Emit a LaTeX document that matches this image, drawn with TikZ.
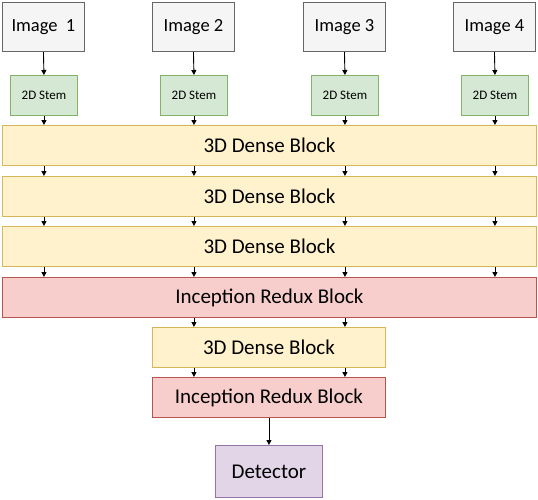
\documentclass[tikz,border=0pt]{standalone}
\usepackage{fontspec}
\setmainfont{Carlito}
\usetikzlibrary{arrows.meta}
\definecolor{grayF}{HTML}{F5F5F5}\definecolor{grayS}{HTML}{666666}
\definecolor{greenF}{HTML}{D5E8D4}\definecolor{greenS}{HTML}{82B366}
\definecolor{yelF}{HTML}{FFF2CC}\definecolor{yelS}{HTML}{D6B656}
\definecolor{redF}{HTML}{F8CECC}\definecolor{redS}{HTML}{B85450}
\definecolor{purF}{HTML}{E1D5E7}\definecolor{purS}{HTML}{9673A6}
\tikzset{
  box/.style={draw, line width=0.9pt, inner sep=0pt, anchor=north west},
  imgbox/.style={box, fill=grayF, draw=grayS, minimum width=82pt, minimum height=49pt, font=\fontsize{18.5}{22}\selectfont},
  stembox/.style={box, fill=greenF, draw=greenS, minimum width=67pt, minimum height=40pt, font=\fontsize{13}{15}\selectfont},
  densebox/.style={box, fill=yelF, draw=yelS, minimum height=40pt, font=\fontsize{21}{25}\selectfont},
  redbox/.style={box, fill=redF, draw=redS, minimum height=40pt, font=\fontsize{21}{25}\selectfont},
  detbox/.style={box, fill=purF, draw=purS, minimum width=107pt, minimum height=52pt, font=\fontsize{21}{25}\selectfont},
  arr/.style={-{Triangle[length=5pt,width=5pt]}, line width=0.9pt, black, shorten >=0pt}
}
\begin{document}
\begin{tikzpicture}[x=1pt,y=-1pt]
\useasboundingbox (0,0) rectangle (538,499);
% images
\node[imgbox] (im1) at (2,2) {Image\ \ 1};
\node[imgbox] (im2) at (152,2) {Image 2};
\node[imgbox] (im3) at (303,2) {Image 3};
\node[imgbox] (im4) at (453,2) {Image 4};
% stems
\node[stembox] (s1) at (10,75) {2D Stem};
\node[stembox] (s2) at (160,75) {2D Stem};
\node[stembox] (s3) at (311,75) {2D Stem};
\node[stembox] (s4) at (461,75) {2D Stem};
% wide blocks
\node[densebox, minimum width=534pt] (d1) at (2,125) {3D Dense Block};
\node[densebox, minimum width=534pt] (d2) at (2,176) {3D Dense Block};
\node[densebox, minimum width=534pt] (d3) at (2,226) {3D Dense Block};
\node[redbox, minimum width=534pt] (r1) at (2,277) {Inception Redux Block};
\node[densebox, minimum width=233pt] (d4) at (152,327) {3D Dense Block};
\node[redbox, minimum width=233pt] (r2) at (152,377) {Inception Redux Block};
\node[detbox] (det) at (215,445) {Detector};
% arrows
\foreach \i in {1,2,3,4}{
  \draw[arr] (im\i.south) -- (s\i.north);
  \draw[arr] (s\i.south) -- (d1.north -| s\i.south);
  \draw[arr] (d1.south -| s\i.south) -- (d2.north -| s\i.south);
  \draw[arr] (d2.south -| s\i.south) -- (d3.north -| s\i.south);
  \draw[arr] (d3.south -| s\i.south) -- (r1.north -| s\i.south);
}
\foreach \i in {2,3}{
  \draw[arr] (r1.south -| s\i.south) -- (d4.north -| s\i.south);
  \draw[arr] (d4.south -| s\i.south) -- (r2.north -| s\i.south);
}
\draw[arr] (r2.south) -- (det.north);
\end{tikzpicture}
\end{document}
